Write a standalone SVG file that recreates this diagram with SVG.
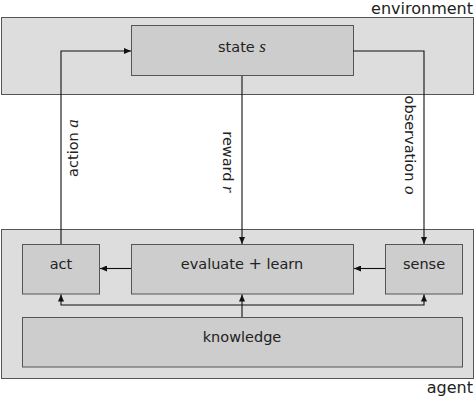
<svg xmlns="http://www.w3.org/2000/svg" width="475" height="397" viewBox="0 0 475 397">
  <style>
    .region { fill: #dddddd; stroke: #555555; stroke-width: 1; }
    .box { fill: #cdcdcd; stroke: #555555; stroke-width: 1; }
    .lbl { font-family: "DejaVu Sans", "Liberation Sans", sans-serif; font-size: 14.5px; fill: #222222; }
    .big { font-size: 16px; }
    .math { font-family: "Liberation Serif", "DejaVu Serif", serif; font-style: italic; font-size: 17px; }
    .wire { fill: none; stroke: #111111; stroke-width: 1.1; }
  </style>
  <defs>
    <marker id="tip" markerUnits="userSpaceOnUse" markerWidth="8" markerHeight="6" refX="7" refY="3" orient="auto">
      <path d="M0,0 L7,3 L0,6 Z" fill="#111111"/>
    </marker>
  </defs>

  <rect width="475" height="397" fill="#ffffff"/>

  <!-- environment region -->
  <g id="environment">
    <rect class="region" x="1.5" y="17.5" width="472" height="77"/>
    <text class="lbl big" x="473" y="14" text-anchor="end">environment</text>
  </g>

  <!-- agent region -->
  <g id="agent">
    <rect class="region" x="1.5" y="229.5" width="472" height="149"/>
    <text class="lbl big" x="473" y="393" text-anchor="end">agent</text>
  </g>

  <g id="state">
    <rect class="box" x="131.5" y="25.5" width="222" height="50"/>
    <text class="lbl" x="242" y="52" text-anchor="middle">state <tspan class="math">s</tspan></text>
  </g>

  <g id="act">
    <rect class="box" x="22.5" y="244.5" width="77" height="49.5"/>
    <text class="lbl" x="61" y="269" text-anchor="middle">act</text>
  </g>

  <g id="evaluate">
    <rect class="box" x="131.5" y="244.5" width="222" height="49.5"/>
    <text class="lbl" x="242" y="269" text-anchor="middle">evaluate <tspan font-size="16px">+</tspan> learn</text>
  </g>

  <g id="sense">
    <rect class="box" x="385.5" y="244.5" width="77" height="49.5"/>
    <text class="lbl" x="424" y="269" text-anchor="middle">sense</text>
  </g>

  <g id="knowledge">
    <rect class="box" x="22.5" y="317.5" width="440" height="49.5"/>
    <text class="lbl" x="242" y="342" text-anchor="middle">knowledge</text>
  </g>

  <g id="connectors">
    <path class="wire" d="M61,244 V51 H131" marker-end="url(#tip)"/>
    <path class="wire" d="M242,76 V244" marker-end="url(#tip)"/>
    <path class="wire" d="M353,51 H424 V244" marker-end="url(#tip)"/>
    <path class="wire" d="M131,268.5 H100" marker-end="url(#tip)"/>
    <path class="wire" d="M385,268.5 H354" marker-end="url(#tip)"/>
    <path class="wire" d="M242,317 V294.5" marker-end="url(#tip)"/>
    <path class="wire" d="M242,305 H61 V294.5" marker-end="url(#tip)"/>
    <path class="wire" d="M242,305 H424 V294.5" marker-end="url(#tip)"/>

    <text class="lbl" transform="translate(78,148) rotate(-90)" text-anchor="middle">action <tspan class="math">a</tspan></text>
    <text class="lbl" transform="translate(223,162) rotate(90)" text-anchor="middle">reward <tspan class="math">r</tspan></text>
    <text class="lbl" transform="translate(405,145) rotate(90)" text-anchor="middle">observation <tspan class="math">o</tspan></text>
  </g>
</svg>
